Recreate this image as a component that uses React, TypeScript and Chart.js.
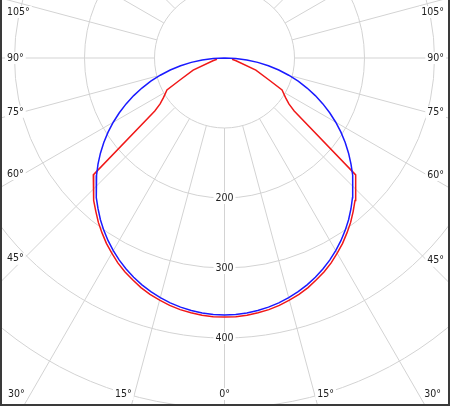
import React, { useEffect, useRef } from "react";
import { Chart, registerables } from "chart.js";

Chart.register(...registerables);

// Polar angles (degrees from nadir) and intensities (cd/klm), mirrored on both sides
const blueAngles = [
  0, 2.5, 5, 7.5, 10, 12.5, 15, 17.5, 20, 22.5, 25, 27.5, 30, 32.5, 35, 37.5, 40, 42.5, 45,
  47.5, 50, 52.5, 55, 57.5, 60, 62.5, 65, 67.5, 70, 72.5, 75, 77.5, 80, 82.5, 85, 87.5, 90,
];
const blueValues = [
  367, 366.7, 365.6, 363.9, 361.4, 358.3, 354.5, 350, 344.9, 339.1, 332.6, 325.5, 317.8, 309.5,
  300.6, 291.2, 281.1, 270.6, 259.5, 247.9, 235.9, 223.4, 210.5, 197.2, 183.5, 169.4, 155.1,
  140.4, 125.5, 110.4, 95, 79.4, 63.7, 47.9, 32, 16, 0,
];

const redAngles = [
  0, 2.5, 5, 7.5, 10, 12.5, 15, 17.5, 20, 22.5, 25, 27.5, 30, 32.5, 35, 37.5, 40, 42.5, 45,
  48.3, 52.8, 54.5, 57, 61, 63.7, 69, 76.4, 80.5,
];
const redValues = [
  370, 370, 369, 367, 365, 362, 358, 354, 349, 343, 337, 330, 322, 314, 305, 296, 286, 276, 265,
  251, 125, 113, 104, 94, 71, 48, 17, 11,
];

const ringValues = [100, 200, 300, 400, 500, 600];
const ringLabels = ["200", "300", "400"];
const sideAngleLabels = [45, 60, 75, 90, 105];
const bottomAngleLabels = [15, 30];
const spokeStep = 15;

const GRID = "#d3d3d3";
const TEXT = "#222222";
const FONT = '10.5px "DejaVu Sans Condensed", "DejaVu Sans", sans-serif';

function toXY(angles: number[], values: number[]) {
  const pts: { x: number; y: number }[] = [];
  for (let i = angles.length - 1; i >= 0; i--) {
    const t = (angles[i] * Math.PI) / 180;
    pts.push({ x: -values[i] * Math.sin(t), y: -values[i] * Math.cos(t) });
  }
  for (let i = 1; i < angles.length; i++) {
    const t = (angles[i] * Math.PI) / 180;
    pts.push({ x: values[i] * Math.sin(t), y: -values[i] * Math.cos(t) });
  }
  return pts;
}

const polarGrid = {
  id: "polarGrid",
  beforeDatasetsDraw(chart: any) {
    const { ctx, scales } = chart;
    const xs = scales.x, ys = scales.y;
    const cx = xs.getPixelForValue(0);
    const cy = ys.getPixelForValue(0);
    const k = (xs.getPixelForValue(100) - cx) / 100;
    const W = chart.width, H = chart.height;
    const innerL = 2, innerR = W - 2, innerB = H - 2;
    ctx.save();
    ctx.strokeStyle = GRID;
    ctx.lineWidth = 1;
    for (const r of ringValues) {
      ctx.beginPath();
      ctx.arc(cx, cy, r * k, 0, Math.PI * 2);
      ctx.stroke();
    }
    const r0 = ringValues[0] * k;
    for (let a = 0; a < 360; a += spokeStep) {
      const t = (a * Math.PI) / 180;
      const dx = Math.sin(t), dy = Math.cos(t);
      ctx.beginPath();
      ctx.moveTo(cx + dx * r0, cy + dy * r0);
      ctx.lineTo(cx + dx * 1000, cy + dy * 1000);
      ctx.stroke();
    }
    ctx.font = FONT;
    ctx.textBaseline = "middle";
    const label = (txt: string, x: number, y: number, align: "left" | "right" | "center") => {
      const tw = ctx.measureText(txt).width;
      let left = x;
      if (align === "right") left = x - tw;
      if (align === "center") left = x - tw / 2;
      ctx.fillStyle = "#ffffff";
      ctx.fillRect(left - 2, y - 6, tw + 4, 12);
      ctx.fillStyle = TEXT;
      ctx.textAlign = "left";
      ctx.fillText(txt, left, y);
    };
    for (const s of ringLabels) {
      const v = Number(s);
      label(s, cx, cy + v * k, "center");
    }
    for (const a of sideAngleLabels) {
      const txt = a + "°";
      const tw = ctx.measureText(txt).width;
      const t = (a * Math.PI) / 180;
      const rl = innerR - 4 - tw;
      let yr = cy + ((rl - cx) / Math.sin(t)) * Math.cos(t);
      yr = Math.max(12, yr);
      label(txt, innerR - 4, yr, "right");
      const lr = innerL + 5 + tw;
      let yl = cy + ((cx - lr) / Math.sin(t)) * Math.cos(t);
      yl = Math.max(12, yl);
      label(txt, innerL + 5, yl, "left");
    }
    const yb = innerB - 10;
    label("0°", cx, yb, "center");
    for (const a of bottomAngleLabels) {
      const txt = a + "°";
      const t = (a * Math.PI) / 180;
      const dist = ((innerB - cy) / Math.cos(t)) * Math.sin(t);
      label(txt, cx - dist, yb, "right");
      label(txt, cx + dist, yb, "left");
    }
    ctx.restore();
  },
  afterDraw(chart: any) {
    const { ctx } = chart;
    const W = chart.width, H = chart.height;
    ctx.save();
    ctx.fillStyle = "#3a3a3a";
    ctx.fillRect(0, 0, 2, H);
    ctx.fillRect(W - 2, 0, 2, H);
    ctx.fillRect(0, H - 2, W, 2);
    ctx.restore();
  },
};

export default function App() {
  const ref = useRef<HTMLCanvasElement | null>(null);
  useEffect(() => {
    document.body.style.margin = "0";
    const canvas = ref.current!;
    const pxPerUnit = 0.7;
    const cxPx = 224.5, cyPx = 58;
    const W = 450, H = 406;
    const chart = new Chart(canvas, {
      type: "scatter",
      data: {
        datasets: [
          {
            label: "blue",
            data: toXY(blueAngles, blueValues),
            showLine: true,
            borderColor: "#1a1aff",
            borderWidth: 1.5,
            pointRadius: 0,
            tension: 0,
            fill: false,
          },
          {
            label: "red",
            data: toXY(redAngles, redValues),
            showLine: true,
            borderColor: "#f01818",
            borderWidth: 1.5,
            pointRadius: 0,
            tension: 0,
            fill: false,
          },
        ],
      },
      options: {
        animation: false,
        responsive: false,
        devicePixelRatio: 1,
        layout: { padding: 0 },
        plugins: { legend: { display: false }, tooltip: { enabled: false } },
        scales: {
          x: { type: "linear", display: false, min: -cxPx / pxPerUnit, max: (W - cxPx) / pxPerUnit },
          y: { type: "linear", display: false, min: -(H - cyPx) / pxPerUnit, max: cyPx / pxPerUnit },
        },
      },
      plugins: [polarGrid],
    });
    return () => chart.destroy();
  }, []);
  return (
    <div style={{ width: 450, height: 406, background: "#fff" }}>
      <canvas ref={ref} width={450} height={406} style={{ display: "block" }} />
    </div>
  );
}
